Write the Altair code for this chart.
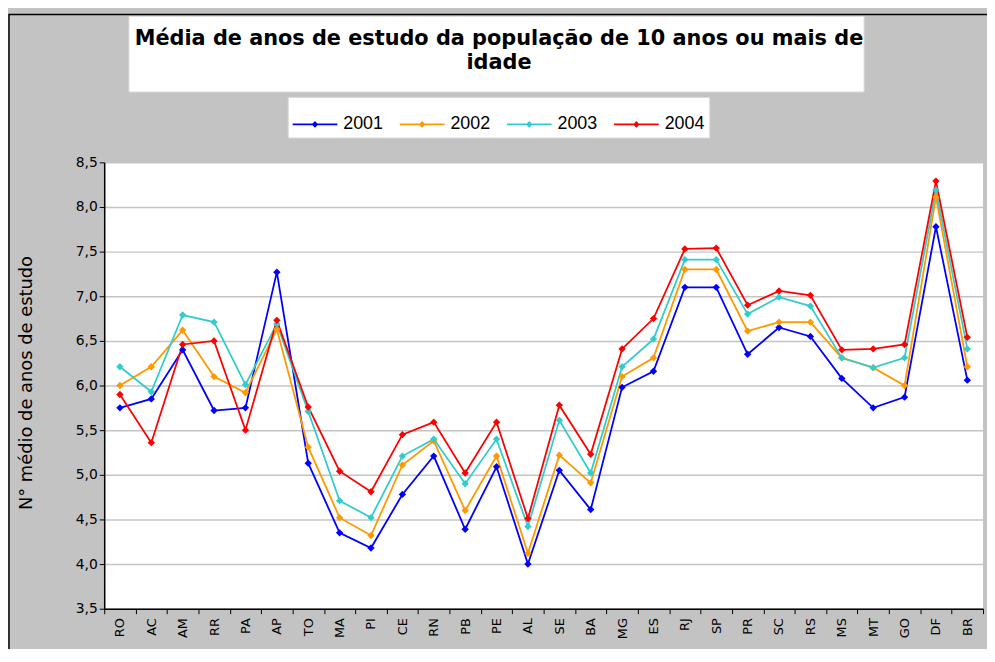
import altair as alt
import pandas as pd

categories = ["RO", "AC", "AM", "RR", "PA", "AP", "TO", "MA", "PI", "CE", "RN", "PB", "PE", "AL",
              "SE", "BA", "MG", "ES", "RJ", "SP", "PR", "SC", "RS", "MS", "MT", "GO", "DF", "BR"]
years = ["2001", "2002", "2003", "2004"]
v2001 = [5.75, 5.85, 6.40, 5.72, 5.75, 7.27, 5.13, 4.35, 4.18, 4.78, 5.21, 4.39, 5.09, 4.00,
         5.05, 4.61, 5.98, 6.16, 7.10, 7.10, 6.35, 6.65, 6.55, 6.08, 5.75, 5.87, 7.78, 6.06]
v2002 = [6.00, 6.21, 6.62, 6.10, 5.92, 6.63, 5.31, 4.52, 4.32, 5.11, 5.38, 4.60, 5.21, 4.12,
         5.22, 4.91, 6.10, 6.31, 7.30, 7.30, 6.61, 6.71, 6.71, 6.31, 6.20, 6.00, 8.11, 6.21]
v2003 = [6.21, 5.93, 6.79, 6.71, 6.01, 6.69, 5.71, 4.71, 4.52, 5.21, 5.40, 4.90, 5.40, 4.42,
         5.61, 5.02, 6.21, 6.52, 7.41, 7.41, 6.80, 6.99, 6.89, 6.31, 6.20, 6.31, 8.19, 6.41]
v2004 = [5.90, 5.36, 6.46, 6.50, 5.50, 6.73, 5.76, 5.04, 4.81, 5.45, 5.59, 5.02, 5.59, 4.51,
         5.78, 5.23, 6.41, 6.75, 7.53, 7.54, 6.90, 7.06, 7.01, 6.40, 6.41, 6.46, 8.29, 6.54]
y_ticks = [3.5, 4.0, 4.5, 5.0, 5.5, 6.0, 6.5, 7.0, 7.5, 8.0, 8.5]
colors = ["#0000ff", "#ff9900", "#33cccc", "#ff0000"]
title_lines = ["Média de anos de estudo da população de 10 anos ou mais de", "idade"]
y_title = "N° médio de anos de estudo"

rows = []
for yr, vals in zip(years, [v2001, v2002, v2003, v2004]):
    for c, v in zip(categories, vals):
        rows.append({"uf": c, "ano": yr, "valor": v})
df = pd.DataFrame(rows)
dummy = pd.DataFrame({"d": [0]})

FONT = "Liberation Sans"
WIDE = "DejaVu Sans"
W, H = 886, 450

x_enc = alt.X("uf:N", sort=categories,
              scale=alt.Scale(type="band", paddingInner=0, paddingOuter=0),
              axis=alt.Axis(title=None, labelAngle=270, labelFontSize=13, labelFont=WIDE,
                            labelColor="#000000", labelPadding=4, tickBand="extent",
                            tickSize=5, tickColor="#000000", domainColor="#000000",
                            domainWidth=1.5, grid=False))
y_enc = alt.Y("valor:Q", scale=alt.Scale(domain=[3.5, 8.5], nice=False, zero=False),
              axis=alt.Axis(title=y_title, values=y_ticks,
                            labelExpr="replace(format(datum.value, '.1f'), '.', ',')",
                            labelFontSize=14, labelFont=WIDE, labelColor="#000000",
                            labelPadding=2, tickSize=5, tickColor="#000000",
                            domainColor="#000000", domainWidth=1.5,
                            grid=True, gridColor="#c4c4c4", gridWidth=1.5,
                            titleFont=WIDE, titleFontSize=18, titleFontWeight="normal",
                            titleColor="#000000", titleX=-78, titleY=H / 2 - 3, titleAngle=270,
                            titleAlign="center", titleBaseline="middle"))
col_scale = alt.Scale(domain=years, range=colors)

base = alt.Chart(df).encode(x=x_enc, y=y_enc)
lines = base.mark_line(strokeWidth=1.8).encode(
    color=alt.Color("ano:N", scale=col_scale, legend=None))
legend_path = "M-1,-0.04L1,-0.04L1,0.04L-1,0.04Z M0,-0.15L0.15,0L0,0.15L-0.15,0Z"
points = base.mark_point(shape="diamond", filled=True, size=55, opacity=1).encode(
    color=alt.Color("ano:N", scale=col_scale,
                    legend=alt.Legend(title=None, orient="none", legendX=185, legendY=-66,
                                      direction="horizontal", columns=4,
                                      symbolType=legend_path, symbolSize=2025,
                                      symbolOpacity=1,
                                      labelFont=FONT, labelFontSize=18, labelColor="#000000",
                                      labelOffset=5, columnPadding=15, padding=4,
                                      fillColor="white", strokeColor="#d8d8d8")))

frame = alt.Chart(dummy).mark_rect(fill=None, stroke="#000000", strokeWidth=1.5).encode(
    x=alt.value(-96), x2=alt.value(W + 40), y=alt.value(-149), y2=alt.value(H + 100))
title_box = alt.Chart(dummy).mark_rect(fill="white", stroke="#e0e0e0").encode(
    x=alt.value(25), x2=alt.value(766), y=alt.value(-147), y2=alt.value(-71))
title_text = alt.Chart(dummy).mark_text(
    text=title_lines, font=WIDE, fontSize=21, fontWeight="bold", color="#000000",
    align="center", baseline="alphabetic", lineHeight=24).encode(
    x=alt.value(398), y=alt.value(-118))

chart = alt.layer(frame, title_box, title_text, lines, points).resolve_legend(
    color="independent"
).properties(
    width=W, height=H,
    autosize=alt.AutoSizeParams(type="none"),
    padding={"left": 97, "top": 153, "right": 4, "bottom": 38},
    background="#c3c3c3",
).configure_view(fill="white", stroke=None)

chart.save("out.html", embed_options={"renderer": "svg", "actions": False})
